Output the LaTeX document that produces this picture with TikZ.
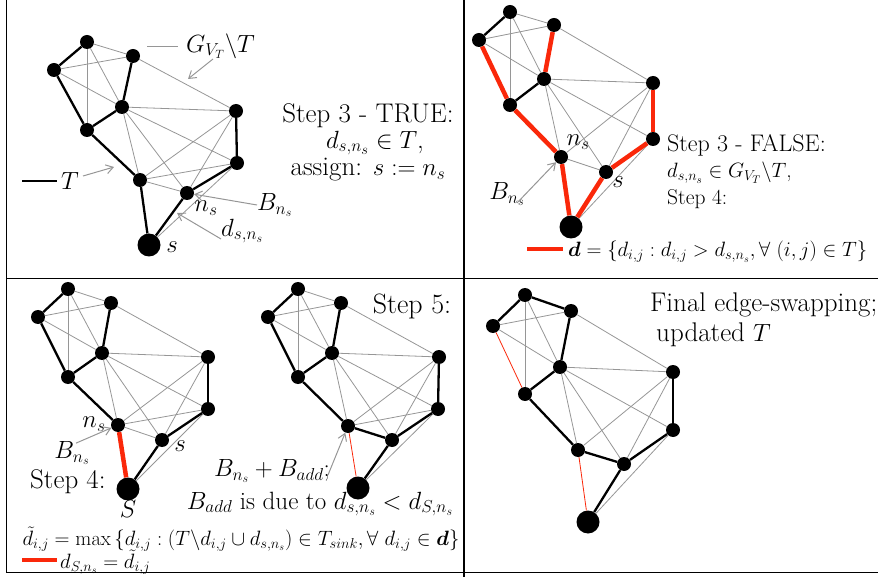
\documentclass[tikz,border=0pt]{standalone}
\usepackage{amsmath,amssymb}
\usetikzlibrary{arrows.meta}
\definecolor{rd}{RGB}{250,40,10}
\definecolor{gr}{RGB}{150,150,150}
\begin{document}
\begin{tikzpicture}[x=1pt,y=-1pt,
 vtx/.style={circle,fill=black,inner sep=0pt,minimum size=14pt},
 bigv/.style={circle,fill=black,inner sep=0pt,minimum size=23pt},
 tr/.style={draw=black,line width=2.3pt},
 ge/.style={draw=gr,line width=0.8pt},
 re/.style={draw=rd,line width=4.5pt},
 rt/.style={draw=rd,line width=0.8pt},
 ga/.style={draw=gr,line width=1pt,-{Straight Barb[length=7pt,width=9pt]}},
 frame/.style={draw=black,line width=1.5pt},
 lab/.style={inner sep=0pt,font=\fontsize{24}{28}\selectfont},
 labb/.style={inner sep=0pt,font=\fontsize{27}{31}\selectfont},
 labc/.style={inner sep=0pt,font=\fontsize{25}{29}\selectfont},
 labm/.style={inner sep=0pt,font=\fontsize{24}{28}\selectfont},
 labs/.style={inner sep=0pt,font=\fontsize{20.5}{24}\selectfont},
 labx/.style={inner sep=0pt,font=\fontsize{21.5}{25}\selectfont}
]
\useasboundingbox (0,0) rectangle (878,577);
% frame
\draw[frame] (6.5,0) -- (6.5,573);
\draw[frame,line width=1.8pt] (464,0) -- (464,577);
\draw[frame,line width=1.3pt] (6.5,278.5) -- (878,278.5);
\draw[frame,line width=1.3pt] (6.5,572.5) -- (878,572.5);

% ---------------- panel 1 ----------------
\foreach \n/\x/\y in {a/87/42,b/54/70,c/133/56,d/122/107,e/87/130,f/236/111,g/237/163,h/140/180,n/187/193}
  \node[vtx] (p1\n) at (\x,\y) {};
\node[bigv] (p1s) at (149,245) {};
\foreach \u/\v in {a/c,a/e,a/d,b/c,b/d,c/f,d/f,d/g,d/h,d/n,h/f,h/g,h/n,n/f,s/g}
  \draw[ge] (p1\u) -- (p1\v);
\foreach \u/\v in {a/b,b/e,e/d,d/c,e/h,h/s,s/n,n/g,g/f}
  \draw[tr] (p1\u) -- (p1\v);
\node[inner sep=0pt,font=\fontsize{26}{30}\selectfont,anchor=west] (gvt) at (186,46) {$G_{V_T}\backslash T$};
\draw[ge] ([xshift=-39pt]gvt.west) -- ([xshift=-8pt]gvt.west);
\coordinate (p1ga) at (213,59);
\coordinate (p1gb) at (188,79);
\draw[ga] (p1ga) -- (p1gb);
\node[lab] (tlab) at (70,181) {$T$};
\draw[tr] ([xshift=-48pt]tlab.center) -- ([xshift=-13pt]tlab.center);
\coordinate (p1ta) at (83,176);
\coordinate (p1tb) at (114,167);
\draw[ga] (p1ta) -- (p1tb);
\node[lab,anchor=west] (bns1) at (257,205) {$B_{n_s}$};
\draw[ga] (bns1.west) -- (p1n);
\node[lab,anchor=west] (dsn1) at (221,231) {$d_{s,n_s}$};
\coordinate (p1db) at (177,213);
\draw[ga] ([yshift=-8pt]dsn1.west) -- (p1db);
\node[lab] (ns1) at (206,208) {$n_s$};
\node[lab] (s1) at (172,247) {$s$};
\node[labb] (st3t) at (368,116) {Step 3 - TRUE:};
\node[labb] (st3t2) at (375,143) {$d_{s,n_s}\in T$,};
\node[labb] (st3t3) at (368,170) {assign: $s := n_s$};

% ---------------- panel 2 ----------------
\foreach \n/\x/\y in {a/510/12,b/479/40,c/554/25,d/544/79,e/510/105,f/653/83,g/653/139,h/561/157,n/606/172}
  \node[vtx] (p2\n) at (\x,\y) {};
\node[bigv] (p2s) at (571,227) {};
\foreach \u/\v in {a/c,a/e,a/d,b/c,b/d,c/f,d/f,d/g,d/h,d/n,h/f,h/n,n/f,s/g}
  \draw[ge] (p2\u) -- (p2\v);
\foreach \u/\v in {a/b,e/d}
  \draw[tr] (p2\u) -- (p2\v);
\foreach \u/\v in {b/e,d/c,e/h,h/s,s/n,n/g,g/f}
  \draw[re] (p2\u) -- (p2\v);
\node[lab] (ns2) at (578,142) {$n_s$};
\node[lab] (s2) at (618,182) {$s$};
\node[lab] (bns2) at (507,194) {$B_{n_s}$};
\draw[ga] ([xshift=10pt,yshift=-9pt]bns2.center) -- (p2h);
\node[labm,anchor=west] (st3f) at (667,145) {Step 3 - FALSE:};
\node[labx,anchor=west] (st3f2) at (667,173) {$d_{s,n_s}\in G_{V_T}\backslash T$,};
\node[labx,anchor=west] (st3f3) at (667,199) {Step 4:};
\node[labs,anchor=west] (dset) at (568,252) {$\boldsymbol{d}=\{d_{i,j} : d_{i,j} > d_{s,n_s}, \forall\ (i,j)\in T\}$};
\draw[re] ([xshift=-41pt,yshift=3pt]dset.west) -- ([xshift=-5pt,yshift=3pt]dset.west);

% ---------------- panel 3 left ----------------
\foreach \n/\x/\y in {a/68/289,b/38/317,c/111/303,d/102/353,e/68/377,f/208/357,g/208/409,h/118/425,n/162/440}
  \node[vtx] (p3\n) at (\x,\y) {};
\node[bigv] (p3s) at (128,489) {};
\foreach \u/\v in {a/c,a/e,a/d,b/c,b/d,c/f,d/f,d/g,d/h,d/n,h/f,h/g,h/n,n/f,s/g}
  \draw[ge] (p3\u) -- (p3\v);
\foreach \u/\v in {a/b,b/e,e/d,d/c,e/h,s/n,n/g,g/f}
  \draw[tr] (p3\u) -- (p3\v);
\draw[re] (p3h) -- (p3s);
\node[lab] (ns3) at (94,424) {$n_s$};
\node[lab] (bns3) at (72,453) {$B_{n_s}$};
\draw[ga] ([xshift=4pt,yshift=-2pt]bns3.north) -- (p3h);
\node[lab] (s3) at (180,446) {$s$};
\node[labb,anchor=west] (st4) at (30,482) {Step 4:};
\node[lab] (bigS) at (128,509) {$S$};

% ---------------- panel 3 right ----------------
\foreach \n/\x/\y in {a/298/289,b/268/317,c/341/303,d/332/353,e/298/377,f/439/357,g/438/409,h/348/426,n/392/440}
  \node[vtx] (p4\n) at (\x,\y) {};
\node[bigv] (p4s) at (358,488) {};
\foreach \u/\v in {a/c,a/e,a/d,b/c,b/d,c/f,d/f,d/g,d/h,d/n,h/f,h/g,n/f,s/g}
  \draw[ge] (p4\u) -- (p4\v);
\foreach \u/\v in {a/b,b/e,e/d,d/c,e/h,h/n,s/n,n/g,g/f}
  \draw[tr] (p4\u) -- (p4\v);
\draw[rt] (p4h) -- (p4s);
\node[inner sep=0pt,font=\fontsize{28}{32}\selectfont] (st5) at (412,306) {Step 5:};
\node[labc] (badd) at (272,471) {$B_{n_s}+B_{add}$;};
\draw[ga] ([xshift=56pt,yshift=-4pt]badd.center) -- (p4h);
\node[labc] (badd2) at (320,504) {$B_{add}$ is due to $d_{s,n_s} < d_{S,n_s}$};
\node[labs] (dtil) at (241,539) {$\tilde d_{i,j} = \max\,\{d_{i,j} : (T\backslash d_{i,j}\cup d_{s,n_s}) \in T_{sink}, \forall\ d_{i,j}\in\boldsymbol{d}\}$};
\node[labs,anchor=west] (dsn) at (60,562) {$d_{S,n_s} = \tilde d_{i,j}$};
\draw[re] ([xshift=-38pt,yshift=2pt]dsn.west) -- ([xshift=-3pt,yshift=2pt]dsn.west);

% ---------------- panel 4 ----------------
\foreach \n/\x/\y in {a/525/295,b/493/326,c/571/311,d/560/367,e/525/394,f/673/372,g/673/430,h/578/450,n/624/464}
  \node[vtx] (p5\n) at (\x,\y) {};
\node[bigv] (p5s) at (588,522) {};
\foreach \u/\v in {a/e,a/d,b/c,b/d,c/f,d/f,d/g,d/h,d/n,h/f,n/f,s/g}
  \draw[ge] (p5\u) -- (p5\v);
\foreach \u/\v in {a/b,a/c,c/d,d/e,e/h,h/n,n/s,n/g,g/f}
  \draw[tr] (p5\u) -- (p5\v);
\draw[rt] (p5b) -- (p5e);
\draw[rt] (p5h) -- (p5s);
\node[labb,anchor=west] (fin) at (650,305) {Final edge-swapping;};
\node[labb,anchor=west] (fin2) at (656,335) {updated $T$};
\end{tikzpicture}
\end{document}
